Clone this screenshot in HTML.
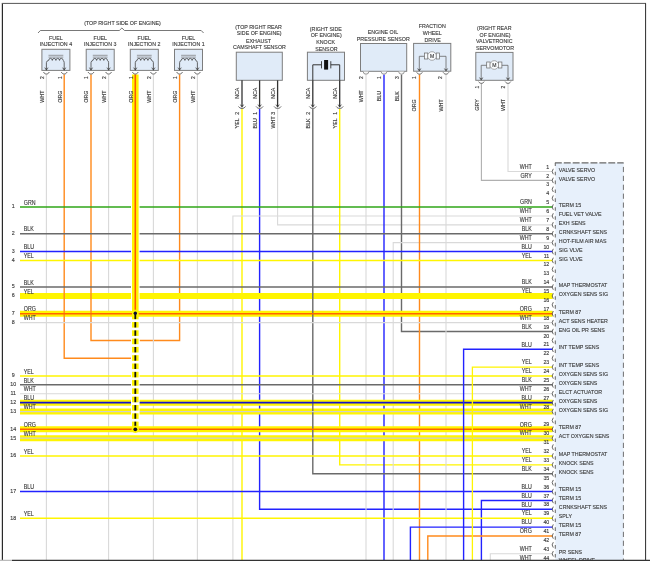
<!DOCTYPE html>
<html><head><meta charset="utf-8"><title>Wiring Diagram</title>
<style>
html,body{margin:0;padding:0;background:#fff;}
body{width:650px;height:561px;overflow:hidden;}
svg{display:block;font-family:"Liberation Sans",sans-serif;will-change:transform;opacity:0.999;filter:blur(0.35px);}
</style></head><body>
<svg width="650" height="561" viewBox="0 0 650 561">
<rect x="0" y="0" width="650" height="561" fill="#ffffff"/>
<g id="vertsA">
<path d="M46.4,74.5 V561.5" stroke="#d9d9d9" stroke-width="1.1" fill="none" />
<path d="M179.6,74.5 V340.5 H139.5" stroke="#ff8a1c" stroke-width="1.4" fill="none" />
<path d="M108.6,74.5 V561.5" stroke="#d9d9d9" stroke-width="1.1" fill="none" />
<path d="M153.4,74.5 V561.5" stroke="#d9d9d9" stroke-width="1.1" fill="none" />
<path d="M197.4,74.5 V561.5" stroke="#d9d9d9" stroke-width="1.1" fill="none" />
<path d="M242,109 V561.5" stroke="#fff500" stroke-width="1.4" fill="none" />
<path d="M259.6,109 V509.32 H552.6" stroke="#2222ff" stroke-width="1.4" fill="none" />
<path d="M277.6,109 V224.84 H552.6" stroke="#d9d9d9" stroke-width="1.1" fill="none" />
<path d="M232.9,561.5 V215.95 H552.6" stroke="#d9d9d9" stroke-width="1.1" fill="none" />
<path d="M339.7,109 V464.87 H552.6" stroke="#fff500" stroke-width="1.4" fill="none" />
<path d="M366,74.5 V561.5" stroke="#d9d9d9" stroke-width="1.1" fill="none" />
<path d="M384,74.5 V561.5" stroke="#2222ff" stroke-width="1.4" fill="none" />
<path d="M401.5,74.5 V331.52 H552.6" stroke="#6a6a6a" stroke-width="1.4" fill="none" />
<path d="M393.2,561.5 V242.62 H552.6" stroke="#d9d9d9" stroke-width="1.1" fill="none" />
<path d="M419.5,74.5 V561.5" stroke="#ff8a1c" stroke-width="1.4" fill="none" />
<path d="M446,74.5 V561.5" stroke="#d9d9d9" stroke-width="1.1" fill="none" />
<path d="M481.4,83.5 V180.39 H552.6" stroke="#b0b0b0" stroke-width="1.1" fill="none" />
<path d="M508,83.5 V171.50 H552.6" stroke="#d9d9d9" stroke-width="1.1" fill="none" />
<path d="M481.4,561.5 V500.43 H552.6" stroke="#2222ff" stroke-width="1.4" fill="none" />
<path d="M410.4,561.5 V527.10 H552.6" stroke="#2222ff" stroke-width="1.4" fill="none" />
<path d="M427.8,561.5 V535.99 H552.6" stroke="#ff8a1c" stroke-width="1.4" fill="none" />
<path d="M490.3,561.5 V553.77 H552.6" stroke="#d9d9d9" stroke-width="1.1" fill="none" />
</g>
<g id="bands">
<line x1="20.00" y1="295.96" x2="552.60" y2="295.96" stroke="#fff500" stroke-width="6.0" />
<line x1="20.00" y1="313.74" x2="552.60" y2="313.74" stroke="#fff500" stroke-width="6.0" />
<line x1="20.00" y1="402.64" x2="552.60" y2="402.64" stroke="#fff500" stroke-width="6.0" />
<line x1="20.00" y1="411.53" x2="552.60" y2="411.53" stroke="#fff500" stroke-width="6.0" />
<line x1="20.00" y1="429.31" x2="552.60" y2="429.31" stroke="#fff500" stroke-width="6.0" />
<line x1="20.00" y1="438.20" x2="552.60" y2="438.20" stroke="#fff500" stroke-width="6.0" />
</g>
<g id="vertsB">
<path d="M64.2,74.5 V358.2 H131.5" stroke="#ff8a1c" stroke-width="1.4" fill="none" />
<path d="M91,74.5 V340.5 H131.5" stroke="#ff8a1c" stroke-width="1.4" fill="none" />
<path d="M312.8,109 V473.76 H552.6" stroke="#6a6a6a" stroke-width="1.4" fill="none" />
</g>
<g id="horiz">
<line x1="20.00" y1="207.06" x2="552.60" y2="207.06" stroke="#2fa617" stroke-width="1.5" />
<line x1="20.00" y1="233.73" x2="552.60" y2="233.73" stroke="#6a6a6a" stroke-width="1.5" />
<line x1="20.00" y1="251.51" x2="552.60" y2="251.51" stroke="#2222ff" stroke-width="1.5" />
<line x1="20.00" y1="260.40" x2="552.60" y2="260.40" stroke="#fff500" stroke-width="1.5" />
<line x1="20.00" y1="287.07" x2="552.60" y2="287.07" stroke="#6a6a6a" stroke-width="1.5" />
<line x1="20.00" y1="313.74" x2="552.60" y2="313.74" stroke="#ff6400" stroke-width="1.6" />
<line x1="20.00" y1="322.63" x2="552.60" y2="322.63" stroke="#d9d9d9" stroke-width="1.1" />
<line x1="20.00" y1="375.97" x2="552.60" y2="375.97" stroke="#fff500" stroke-width="1.5" />
<line x1="20.00" y1="384.86" x2="552.60" y2="384.86" stroke="#6a6a6a" stroke-width="1.5" />
<line x1="20.00" y1="393.75" x2="552.60" y2="393.75" stroke="#d9d9d9" stroke-width="1.1" />
<line x1="20.00" y1="402.64" x2="552.60" y2="402.64" stroke="#1414c8" stroke-width="1.6" />
<line x1="20.00" y1="411.53" x2="552.60" y2="411.53" stroke="#cfcfcf" stroke-width="1.2" />
<line x1="20.00" y1="429.31" x2="552.60" y2="429.31" stroke="#ff6400" stroke-width="1.6" />
<line x1="20.00" y1="438.20" x2="552.60" y2="438.20" stroke="#cfcfcf" stroke-width="1.2" />
<line x1="20.00" y1="455.98" x2="552.60" y2="455.98" stroke="#fff500" stroke-width="1.5" />
<line x1="20.00" y1="491.54" x2="552.60" y2="491.54" stroke="#2222ff" stroke-width="1.5" />
<line x1="20.00" y1="518.21" x2="552.60" y2="518.21" stroke="#fff500" stroke-width="1.5" />
</g>
<g id="vertsC">
<path d="M463.6,561.5 V349.30 H552.6" stroke="#2222ff" stroke-width="1.4" fill="none" />
<path d="M472.4,561.5 V367.08 H552.6" stroke="#fff500" stroke-width="1.3" fill="none" />
</g>
<g id="hlvert">
<line x1="135.30" y1="75.00" x2="135.30" y2="310.54" stroke="#ffffff" stroke-width="8.6" />
<line x1="135.30" y1="74.50" x2="135.30" y2="311.24" stroke="#fff500" stroke-width="6.6" />
<line x1="135.30" y1="74.50" x2="135.30" y2="309.74" stroke="#ff5a00" stroke-width="1.6" />
<rect x="132.00" y="310.74" width="6.6" height="6" fill="#fff500"/>
<line x1="135.30" y1="316.94" x2="135.30" y2="426.11" stroke="#ffffff" stroke-width="8.6" />
<rect x="132.00" y="313.74" width="6.6" height="5.6" fill="#fff500"/>
<line x1="135.30" y1="313.74" x2="135.30" y2="319.14" stroke="#111" stroke-width="1.8" />
<rect x="132.00" y="322.00" width="6.6" height="5.6" fill="#fff500"/>
<line x1="135.30" y1="322.10" x2="135.30" y2="327.50" stroke="#111" stroke-width="1.8" />
<rect x="132.00" y="330.30" width="6.6" height="5.6" fill="#fff500"/>
<line x1="135.30" y1="330.40" x2="135.30" y2="335.80" stroke="#111" stroke-width="1.8" />
<rect x="132.00" y="338.60" width="6.6" height="5.6" fill="#fff500"/>
<line x1="135.30" y1="338.70" x2="135.30" y2="344.10" stroke="#111" stroke-width="1.8" />
<rect x="132.00" y="346.90" width="6.6" height="5.6" fill="#fff500"/>
<line x1="135.30" y1="347.00" x2="135.30" y2="352.40" stroke="#111" stroke-width="1.8" />
<rect x="132.00" y="355.20" width="6.6" height="5.6" fill="#fff500"/>
<line x1="135.30" y1="355.30" x2="135.30" y2="360.70" stroke="#111" stroke-width="1.8" />
<rect x="132.00" y="363.50" width="6.6" height="5.6" fill="#fff500"/>
<line x1="135.30" y1="363.60" x2="135.30" y2="369.00" stroke="#111" stroke-width="1.8" />
<rect x="132.00" y="371.80" width="6.6" height="5.6" fill="#fff500"/>
<line x1="135.30" y1="371.90" x2="135.30" y2="377.30" stroke="#111" stroke-width="1.8" />
<rect x="132.00" y="380.10" width="6.6" height="5.6" fill="#fff500"/>
<line x1="135.30" y1="380.20" x2="135.30" y2="385.60" stroke="#111" stroke-width="1.8" />
<rect x="132.00" y="388.40" width="6.6" height="5.6" fill="#fff500"/>
<line x1="135.30" y1="388.50" x2="135.30" y2="393.90" stroke="#111" stroke-width="1.8" />
<rect x="132.00" y="396.70" width="6.6" height="5.6" fill="#fff500"/>
<line x1="135.30" y1="396.80" x2="135.30" y2="402.20" stroke="#111" stroke-width="1.8" />
<rect x="132.00" y="405.00" width="6.6" height="5.6" fill="#fff500"/>
<line x1="135.30" y1="405.10" x2="135.30" y2="410.50" stroke="#111" stroke-width="1.8" />
<rect x="132.00" y="413.30" width="6.6" height="5.6" fill="#fff500"/>
<line x1="135.30" y1="413.40" x2="135.30" y2="418.80" stroke="#111" stroke-width="1.8" />
<rect x="132.00" y="421.60" width="6.6" height="5.6" fill="#fff500"/>
<line x1="135.30" y1="421.70" x2="135.30" y2="427.10" stroke="#111" stroke-width="1.8" />
<circle cx="135.30" cy="313.14" r="1.7" fill="#0a0a3a"/>
<circle cx="135.30" cy="429.31" r="3.6" fill="#fff500"/>
<circle cx="135.30" cy="429.31" r="1.9" fill="#0a0a2a"/>
</g>
<g id="leftlabels">
<text transform="translate(13.20,208.36) scale(0.856,1)" text-anchor="middle" font-size="6.2" fill="#3a3a3a" stroke="#3a3a3a" stroke-width="0.14">1</text>
<text transform="translate(23.80,204.71) scale(0.804,1)" text-anchor="start" font-size="6.6" fill="#3a3a3a" stroke="#3a3a3a" stroke-width="0.14">GRN</text>
<text transform="translate(13.20,235.03) scale(0.856,1)" text-anchor="middle" font-size="6.2" fill="#3a3a3a" stroke="#3a3a3a" stroke-width="0.14">2</text>
<text transform="translate(23.80,231.38) scale(0.804,1)" text-anchor="start" font-size="6.6" fill="#3a3a3a" stroke="#3a3a3a" stroke-width="0.14">BLK</text>
<text transform="translate(13.20,252.81) scale(0.856,1)" text-anchor="middle" font-size="6.2" fill="#3a3a3a" stroke="#3a3a3a" stroke-width="0.14">3</text>
<text transform="translate(23.80,249.16) scale(0.804,1)" text-anchor="start" font-size="6.6" fill="#3a3a3a" stroke="#3a3a3a" stroke-width="0.14">BLU</text>
<text transform="translate(13.20,261.70) scale(0.856,1)" text-anchor="middle" font-size="6.2" fill="#3a3a3a" stroke="#3a3a3a" stroke-width="0.14">4</text>
<text transform="translate(23.80,258.05) scale(0.804,1)" text-anchor="start" font-size="6.6" fill="#3a3a3a" stroke="#3a3a3a" stroke-width="0.14">YEL</text>
<text transform="translate(13.20,288.37) scale(0.856,1)" text-anchor="middle" font-size="6.2" fill="#3a3a3a" stroke="#3a3a3a" stroke-width="0.14">5</text>
<text transform="translate(23.80,284.72) scale(0.804,1)" text-anchor="start" font-size="6.6" fill="#3a3a3a" stroke="#3a3a3a" stroke-width="0.14">BLK</text>
<text transform="translate(13.20,297.26) scale(0.856,1)" text-anchor="middle" font-size="6.2" fill="#3a3a3a" stroke="#3a3a3a" stroke-width="0.14">6</text>
<text transform="translate(23.80,293.61) scale(0.804,1)" text-anchor="start" font-size="6.6" fill="#3a3a3a" stroke="#3a3a3a" stroke-width="0.14">YEL</text>
<text transform="translate(13.20,315.04) scale(0.856,1)" text-anchor="middle" font-size="6.2" fill="#3a3a3a" stroke="#3a3a3a" stroke-width="0.14">7</text>
<text transform="translate(23.80,311.39) scale(0.804,1)" text-anchor="start" font-size="6.6" fill="#3a3a3a" stroke="#3a3a3a" stroke-width="0.14">ORG</text>
<text transform="translate(13.20,323.93) scale(0.856,1)" text-anchor="middle" font-size="6.2" fill="#3a3a3a" stroke="#3a3a3a" stroke-width="0.14">8</text>
<text transform="translate(23.80,320.28) scale(0.804,1)" text-anchor="start" font-size="6.6" fill="#3a3a3a" stroke="#3a3a3a" stroke-width="0.14">WHT</text>
<text transform="translate(13.20,377.27) scale(0.856,1)" text-anchor="middle" font-size="6.2" fill="#3a3a3a" stroke="#3a3a3a" stroke-width="0.14">9</text>
<text transform="translate(23.80,373.62) scale(0.804,1)" text-anchor="start" font-size="6.6" fill="#3a3a3a" stroke="#3a3a3a" stroke-width="0.14">YEL</text>
<text transform="translate(13.20,386.16) scale(0.856,1)" text-anchor="middle" font-size="6.2" fill="#3a3a3a" stroke="#3a3a3a" stroke-width="0.14">10</text>
<text transform="translate(23.80,382.51) scale(0.804,1)" text-anchor="start" font-size="6.6" fill="#3a3a3a" stroke="#3a3a3a" stroke-width="0.14">BLK</text>
<text transform="translate(13.20,395.05) scale(0.856,1)" text-anchor="middle" font-size="6.2" fill="#3a3a3a" stroke="#3a3a3a" stroke-width="0.14">11</text>
<text transform="translate(23.80,391.40) scale(0.804,1)" text-anchor="start" font-size="6.6" fill="#3a3a3a" stroke="#3a3a3a" stroke-width="0.14">WHT</text>
<text transform="translate(13.20,403.94) scale(0.856,1)" text-anchor="middle" font-size="6.2" fill="#3a3a3a" stroke="#3a3a3a" stroke-width="0.14">12</text>
<text transform="translate(23.80,400.29) scale(0.804,1)" text-anchor="start" font-size="6.6" fill="#3a3a3a" stroke="#3a3a3a" stroke-width="0.14">BLU</text>
<text transform="translate(13.20,412.83) scale(0.856,1)" text-anchor="middle" font-size="6.2" fill="#3a3a3a" stroke="#3a3a3a" stroke-width="0.14">13</text>
<text transform="translate(23.80,409.18) scale(0.804,1)" text-anchor="start" font-size="6.6" fill="#3a3a3a" stroke="#3a3a3a" stroke-width="0.14">WHT</text>
<text transform="translate(13.20,430.61) scale(0.856,1)" text-anchor="middle" font-size="6.2" fill="#3a3a3a" stroke="#3a3a3a" stroke-width="0.14">14</text>
<text transform="translate(23.80,426.96) scale(0.804,1)" text-anchor="start" font-size="6.6" fill="#3a3a3a" stroke="#3a3a3a" stroke-width="0.14">ORG</text>
<text transform="translate(13.20,439.50) scale(0.856,1)" text-anchor="middle" font-size="6.2" fill="#3a3a3a" stroke="#3a3a3a" stroke-width="0.14">15</text>
<text transform="translate(23.80,435.85) scale(0.804,1)" text-anchor="start" font-size="6.6" fill="#3a3a3a" stroke="#3a3a3a" stroke-width="0.14">WHT</text>
<text transform="translate(13.20,457.28) scale(0.856,1)" text-anchor="middle" font-size="6.2" fill="#3a3a3a" stroke="#3a3a3a" stroke-width="0.14">16</text>
<text transform="translate(23.80,453.63) scale(0.804,1)" text-anchor="start" font-size="6.6" fill="#3a3a3a" stroke="#3a3a3a" stroke-width="0.14">YEL</text>
<text transform="translate(13.20,492.84) scale(0.856,1)" text-anchor="middle" font-size="6.2" fill="#3a3a3a" stroke="#3a3a3a" stroke-width="0.14">17</text>
<text transform="translate(23.80,489.19) scale(0.804,1)" text-anchor="start" font-size="6.6" fill="#3a3a3a" stroke="#3a3a3a" stroke-width="0.14">BLU</text>
<text transform="translate(13.20,519.51) scale(0.856,1)" text-anchor="middle" font-size="6.2" fill="#3a3a3a" stroke="#3a3a3a" stroke-width="0.14">18</text>
<text transform="translate(23.80,515.86) scale(0.804,1)" text-anchor="start" font-size="6.6" fill="#3a3a3a" stroke="#3a3a3a" stroke-width="0.14">YEL</text>
</g>
<rect x="555.3" y="162.9" width="68.30" height="403.60" fill="#e7f0fb"/>
<line x1="554.90" y1="162.90" x2="623.60" y2="162.90" stroke="#686868" stroke-width="1.2" stroke-dasharray="6.9 2.0"/>
<line x1="623.40" y1="162.90" x2="623.40" y2="561.50" stroke="#707070" stroke-width="1.0" stroke-dasharray="5.2 3.7" stroke-dashoffset="4.9"/>
<line x1="555.30" y1="162.90" x2="555.30" y2="165.90" stroke="#6f6f6f" stroke-width="1.1" />
<g id="conn">
<line x1="555.30" y1="171.70" x2="555.30" y2="175.30" stroke="#6f6f6f" stroke-width="1.1" />
<path d="M553.30,168.80 Q551.00,171.50 553.30,174.20" stroke="#4a4a4a" stroke-width="0.85" fill="none" />
<text transform="translate(549.30,168.65) scale(0.856,1)" text-anchor="end" font-size="6.2" fill="#3a3a3a" stroke="#3a3a3a" stroke-width="0.14">1</text>
<text transform="translate(531.80,168.75) scale(0.804,1)" text-anchor="end" font-size="6.6" fill="#3a3a3a" stroke="#3a3a3a" stroke-width="0.14">WHT</text>
<text transform="translate(558.80,171.80) scale(0.856,1)" text-anchor="start" font-size="6.2" fill="#3a3a3a" stroke="#3a3a3a" stroke-width="0.14">VALVE SERVO</text>
<line x1="555.30" y1="180.59" x2="555.30" y2="184.19" stroke="#6f6f6f" stroke-width="1.1" />
<path d="M553.30,177.69 Q551.00,180.39 553.30,183.09" stroke="#4a4a4a" stroke-width="0.85" fill="none" />
<text transform="translate(549.30,177.54) scale(0.856,1)" text-anchor="end" font-size="6.2" fill="#3a3a3a" stroke="#3a3a3a" stroke-width="0.14">2</text>
<text transform="translate(531.80,177.64) scale(0.804,1)" text-anchor="end" font-size="6.6" fill="#3a3a3a" stroke="#3a3a3a" stroke-width="0.14">GRY</text>
<text transform="translate(558.80,180.68) scale(0.856,1)" text-anchor="start" font-size="6.2" fill="#3a3a3a" stroke="#3a3a3a" stroke-width="0.14">VALVE SERVO</text>
<line x1="555.30" y1="189.48" x2="555.30" y2="193.08" stroke="#6f6f6f" stroke-width="1.1" />
<path d="M553.30,186.58 Q551.00,189.28 553.30,191.98" stroke="#4a4a4a" stroke-width="0.85" fill="none" />
<text transform="translate(549.30,186.43) scale(0.856,1)" text-anchor="end" font-size="6.2" fill="#3a3a3a" stroke="#3a3a3a" stroke-width="0.14">3</text>
<line x1="555.30" y1="198.37" x2="555.30" y2="201.97" stroke="#6f6f6f" stroke-width="1.1" />
<path d="M553.30,195.47 Q551.00,198.17 553.30,200.87" stroke="#4a4a4a" stroke-width="0.85" fill="none" />
<text transform="translate(549.30,195.32) scale(0.856,1)" text-anchor="end" font-size="6.2" fill="#3a3a3a" stroke="#3a3a3a" stroke-width="0.14">4</text>
<line x1="555.30" y1="207.26" x2="555.30" y2="210.86" stroke="#6f6f6f" stroke-width="1.1" />
<path d="M553.30,204.36 Q551.00,207.06 553.30,209.76" stroke="#4a4a4a" stroke-width="0.85" fill="none" />
<text transform="translate(549.30,204.21) scale(0.856,1)" text-anchor="end" font-size="6.2" fill="#3a3a3a" stroke="#3a3a3a" stroke-width="0.14">5</text>
<text transform="translate(531.80,204.31) scale(0.804,1)" text-anchor="end" font-size="6.6" fill="#3a3a3a" stroke="#3a3a3a" stroke-width="0.14">GRN</text>
<text transform="translate(558.80,207.31) scale(0.856,1)" text-anchor="start" font-size="6.2" fill="#3a3a3a" stroke="#3a3a3a" stroke-width="0.14">TERM 15</text>
<line x1="555.30" y1="216.15" x2="555.30" y2="219.75" stroke="#6f6f6f" stroke-width="1.1" />
<path d="M553.30,213.25 Q551.00,215.95 553.30,218.65" stroke="#4a4a4a" stroke-width="0.85" fill="none" />
<text transform="translate(549.30,213.10) scale(0.856,1)" text-anchor="end" font-size="6.2" fill="#3a3a3a" stroke="#3a3a3a" stroke-width="0.14">6</text>
<text transform="translate(531.80,213.20) scale(0.804,1)" text-anchor="end" font-size="6.6" fill="#3a3a3a" stroke="#3a3a3a" stroke-width="0.14">WHT</text>
<text transform="translate(558.80,216.19) scale(0.856,1)" text-anchor="start" font-size="6.2" fill="#3a3a3a" stroke="#3a3a3a" stroke-width="0.14">FUEL VET VALVE</text>
<line x1="555.30" y1="225.04" x2="555.30" y2="228.64" stroke="#6f6f6f" stroke-width="1.1" />
<path d="M553.30,222.14 Q551.00,224.84 553.30,227.54" stroke="#4a4a4a" stroke-width="0.85" fill="none" />
<text transform="translate(549.30,221.99) scale(0.856,1)" text-anchor="end" font-size="6.2" fill="#3a3a3a" stroke="#3a3a3a" stroke-width="0.14">7</text>
<text transform="translate(531.80,222.09) scale(0.804,1)" text-anchor="end" font-size="6.6" fill="#3a3a3a" stroke="#3a3a3a" stroke-width="0.14">WHT</text>
<text transform="translate(558.80,225.07) scale(0.856,1)" text-anchor="start" font-size="6.2" fill="#3a3a3a" stroke="#3a3a3a" stroke-width="0.14">EXH SENS</text>
<line x1="555.30" y1="233.93" x2="555.30" y2="237.53" stroke="#6f6f6f" stroke-width="1.1" />
<path d="M553.30,231.03 Q551.00,233.73 553.30,236.43" stroke="#4a4a4a" stroke-width="0.85" fill="none" />
<text transform="translate(549.30,230.88) scale(0.856,1)" text-anchor="end" font-size="6.2" fill="#3a3a3a" stroke="#3a3a3a" stroke-width="0.14">8</text>
<text transform="translate(531.80,230.98) scale(0.804,1)" text-anchor="end" font-size="6.6" fill="#3a3a3a" stroke="#3a3a3a" stroke-width="0.14">BLK</text>
<text transform="translate(558.80,233.95) scale(0.856,1)" text-anchor="start" font-size="6.2" fill="#3a3a3a" stroke="#3a3a3a" stroke-width="0.14">CRNKSHAFT SENS</text>
<line x1="555.30" y1="242.82" x2="555.30" y2="246.42" stroke="#6f6f6f" stroke-width="1.1" />
<path d="M553.30,239.92 Q551.00,242.62 553.30,245.32" stroke="#4a4a4a" stroke-width="0.85" fill="none" />
<text transform="translate(549.30,239.77) scale(0.856,1)" text-anchor="end" font-size="6.2" fill="#3a3a3a" stroke="#3a3a3a" stroke-width="0.14">9</text>
<text transform="translate(531.80,239.87) scale(0.804,1)" text-anchor="end" font-size="6.6" fill="#3a3a3a" stroke="#3a3a3a" stroke-width="0.14">WHT</text>
<text transform="translate(558.80,242.82) scale(0.856,1)" text-anchor="start" font-size="6.2" fill="#3a3a3a" stroke="#3a3a3a" stroke-width="0.14">HOT-FILM AIR MAS</text>
<line x1="555.30" y1="251.71" x2="555.30" y2="255.31" stroke="#6f6f6f" stroke-width="1.1" />
<path d="M553.30,248.81 Q551.00,251.51 553.30,254.21" stroke="#4a4a4a" stroke-width="0.85" fill="none" />
<text transform="translate(549.30,248.66) scale(0.856,1)" text-anchor="end" font-size="6.2" fill="#3a3a3a" stroke="#3a3a3a" stroke-width="0.14">10</text>
<text transform="translate(531.80,248.76) scale(0.804,1)" text-anchor="end" font-size="6.6" fill="#3a3a3a" stroke="#3a3a3a" stroke-width="0.14">BLU</text>
<text transform="translate(558.80,251.70) scale(0.856,1)" text-anchor="start" font-size="6.2" fill="#3a3a3a" stroke="#3a3a3a" stroke-width="0.14">SIG VLVE</text>
<line x1="555.30" y1="260.60" x2="555.30" y2="264.20" stroke="#6f6f6f" stroke-width="1.1" />
<path d="M553.30,257.70 Q551.00,260.40 553.30,263.10" stroke="#4a4a4a" stroke-width="0.85" fill="none" />
<text transform="translate(549.30,257.55) scale(0.856,1)" text-anchor="end" font-size="6.2" fill="#3a3a3a" stroke="#3a3a3a" stroke-width="0.14">11</text>
<text transform="translate(531.80,257.65) scale(0.804,1)" text-anchor="end" font-size="6.6" fill="#3a3a3a" stroke="#3a3a3a" stroke-width="0.14">YEL</text>
<text transform="translate(558.80,260.58) scale(0.856,1)" text-anchor="start" font-size="6.2" fill="#3a3a3a" stroke="#3a3a3a" stroke-width="0.14">SIG VLVE</text>
<line x1="555.30" y1="269.49" x2="555.30" y2="273.09" stroke="#6f6f6f" stroke-width="1.1" />
<path d="M553.30,266.59 Q551.00,269.29 553.30,271.99" stroke="#4a4a4a" stroke-width="0.85" fill="none" />
<text transform="translate(549.30,266.44) scale(0.856,1)" text-anchor="end" font-size="6.2" fill="#3a3a3a" stroke="#3a3a3a" stroke-width="0.14">12</text>
<line x1="555.30" y1="278.38" x2="555.30" y2="281.98" stroke="#6f6f6f" stroke-width="1.1" />
<path d="M553.30,275.48 Q551.00,278.18 553.30,280.88" stroke="#4a4a4a" stroke-width="0.85" fill="none" />
<text transform="translate(549.30,275.33) scale(0.856,1)" text-anchor="end" font-size="6.2" fill="#3a3a3a" stroke="#3a3a3a" stroke-width="0.14">13</text>
<line x1="555.30" y1="287.27" x2="555.30" y2="290.87" stroke="#6f6f6f" stroke-width="1.1" />
<path d="M553.30,284.37 Q551.00,287.07 553.30,289.77" stroke="#4a4a4a" stroke-width="0.85" fill="none" />
<text transform="translate(549.30,284.22) scale(0.856,1)" text-anchor="end" font-size="6.2" fill="#3a3a3a" stroke="#3a3a3a" stroke-width="0.14">14</text>
<text transform="translate(531.80,284.32) scale(0.804,1)" text-anchor="end" font-size="6.6" fill="#3a3a3a" stroke="#3a3a3a" stroke-width="0.14">BLK</text>
<text transform="translate(558.80,287.21) scale(0.856,1)" text-anchor="start" font-size="6.2" fill="#3a3a3a" stroke="#3a3a3a" stroke-width="0.14">MAP THERMOSTAT</text>
<line x1="555.30" y1="296.16" x2="555.30" y2="299.76" stroke="#6f6f6f" stroke-width="1.1" />
<path d="M553.30,293.26 Q551.00,295.96 553.30,298.66" stroke="#4a4a4a" stroke-width="0.85" fill="none" />
<text transform="translate(549.30,293.11) scale(0.856,1)" text-anchor="end" font-size="6.2" fill="#3a3a3a" stroke="#3a3a3a" stroke-width="0.14">15</text>
<text transform="translate(531.80,293.21) scale(0.804,1)" text-anchor="end" font-size="6.6" fill="#3a3a3a" stroke="#3a3a3a" stroke-width="0.14">YEL</text>
<text transform="translate(558.80,296.09) scale(0.856,1)" text-anchor="start" font-size="6.2" fill="#3a3a3a" stroke="#3a3a3a" stroke-width="0.14">OXYGEN SENS SIG</text>
<line x1="555.30" y1="305.05" x2="555.30" y2="308.65" stroke="#6f6f6f" stroke-width="1.1" />
<path d="M553.30,302.15 Q551.00,304.85 553.30,307.55" stroke="#4a4a4a" stroke-width="0.85" fill="none" />
<text transform="translate(549.30,302.00) scale(0.856,1)" text-anchor="end" font-size="6.2" fill="#3a3a3a" stroke="#3a3a3a" stroke-width="0.14">16</text>
<line x1="555.30" y1="313.94" x2="555.30" y2="317.54" stroke="#6f6f6f" stroke-width="1.1" />
<path d="M553.30,311.04 Q551.00,313.74 553.30,316.44" stroke="#4a4a4a" stroke-width="0.85" fill="none" />
<text transform="translate(549.30,310.89) scale(0.856,1)" text-anchor="end" font-size="6.2" fill="#3a3a3a" stroke="#3a3a3a" stroke-width="0.14">17</text>
<text transform="translate(531.80,310.99) scale(0.804,1)" text-anchor="end" font-size="6.6" fill="#3a3a3a" stroke="#3a3a3a" stroke-width="0.14">ORG</text>
<text transform="translate(558.80,313.85) scale(0.856,1)" text-anchor="start" font-size="6.2" fill="#3a3a3a" stroke="#3a3a3a" stroke-width="0.14">TERM 87</text>
<line x1="555.30" y1="322.83" x2="555.30" y2="326.43" stroke="#6f6f6f" stroke-width="1.1" />
<path d="M553.30,319.93 Q551.00,322.63 553.30,325.33" stroke="#4a4a4a" stroke-width="0.85" fill="none" />
<text transform="translate(549.30,319.78) scale(0.856,1)" text-anchor="end" font-size="6.2" fill="#3a3a3a" stroke="#3a3a3a" stroke-width="0.14">18</text>
<text transform="translate(531.80,319.88) scale(0.804,1)" text-anchor="end" font-size="6.6" fill="#3a3a3a" stroke="#3a3a3a" stroke-width="0.14">WHT</text>
<text transform="translate(558.80,322.73) scale(0.856,1)" text-anchor="start" font-size="6.2" fill="#3a3a3a" stroke="#3a3a3a" stroke-width="0.14">ACT SENS HEATER</text>
<line x1="555.30" y1="331.72" x2="555.30" y2="335.32" stroke="#6f6f6f" stroke-width="1.1" />
<path d="M553.30,328.82 Q551.00,331.52 553.30,334.22" stroke="#4a4a4a" stroke-width="0.85" fill="none" />
<text transform="translate(549.30,328.67) scale(0.856,1)" text-anchor="end" font-size="6.2" fill="#3a3a3a" stroke="#3a3a3a" stroke-width="0.14">19</text>
<text transform="translate(531.80,328.77) scale(0.804,1)" text-anchor="end" font-size="6.6" fill="#3a3a3a" stroke="#3a3a3a" stroke-width="0.14">BLK</text>
<text transform="translate(558.80,331.60) scale(0.856,1)" text-anchor="start" font-size="6.2" fill="#3a3a3a" stroke="#3a3a3a" stroke-width="0.14">ENG OIL PR SENS</text>
<line x1="555.30" y1="340.61" x2="555.30" y2="344.21" stroke="#6f6f6f" stroke-width="1.1" />
<path d="M553.30,337.71 Q551.00,340.41 553.30,343.11" stroke="#4a4a4a" stroke-width="0.85" fill="none" />
<text transform="translate(549.30,337.56) scale(0.856,1)" text-anchor="end" font-size="6.2" fill="#3a3a3a" stroke="#3a3a3a" stroke-width="0.14">20</text>
<line x1="555.30" y1="349.50" x2="555.30" y2="353.10" stroke="#6f6f6f" stroke-width="1.1" />
<path d="M553.30,346.60 Q551.00,349.30 553.30,352.00" stroke="#4a4a4a" stroke-width="0.85" fill="none" />
<text transform="translate(549.30,346.45) scale(0.856,1)" text-anchor="end" font-size="6.2" fill="#3a3a3a" stroke="#3a3a3a" stroke-width="0.14">21</text>
<text transform="translate(531.80,346.55) scale(0.804,1)" text-anchor="end" font-size="6.6" fill="#3a3a3a" stroke="#3a3a3a" stroke-width="0.14">BLU</text>
<text transform="translate(558.80,349.36) scale(0.856,1)" text-anchor="start" font-size="6.2" fill="#3a3a3a" stroke="#3a3a3a" stroke-width="0.14">INT TEMP SENS</text>
<line x1="555.30" y1="358.39" x2="555.30" y2="361.99" stroke="#6f6f6f" stroke-width="1.1" />
<path d="M553.30,355.49 Q551.00,358.19 553.30,360.89" stroke="#4a4a4a" stroke-width="0.85" fill="none" />
<text transform="translate(549.30,355.34) scale(0.856,1)" text-anchor="end" font-size="6.2" fill="#3a3a3a" stroke="#3a3a3a" stroke-width="0.14">22</text>
<line x1="555.30" y1="367.28" x2="555.30" y2="370.88" stroke="#6f6f6f" stroke-width="1.1" />
<path d="M553.30,364.38 Q551.00,367.08 553.30,369.78" stroke="#4a4a4a" stroke-width="0.85" fill="none" />
<text transform="translate(549.30,364.23) scale(0.856,1)" text-anchor="end" font-size="6.2" fill="#3a3a3a" stroke="#3a3a3a" stroke-width="0.14">23</text>
<text transform="translate(531.80,364.33) scale(0.804,1)" text-anchor="end" font-size="6.6" fill="#3a3a3a" stroke="#3a3a3a" stroke-width="0.14">YEL</text>
<text transform="translate(558.80,367.12) scale(0.856,1)" text-anchor="start" font-size="6.2" fill="#3a3a3a" stroke="#3a3a3a" stroke-width="0.14">INT TEMP SENS</text>
<line x1="555.30" y1="376.17" x2="555.30" y2="379.77" stroke="#6f6f6f" stroke-width="1.1" />
<path d="M553.30,373.27 Q551.00,375.97 553.30,378.67" stroke="#4a4a4a" stroke-width="0.85" fill="none" />
<text transform="translate(549.30,373.12) scale(0.856,1)" text-anchor="end" font-size="6.2" fill="#3a3a3a" stroke="#3a3a3a" stroke-width="0.14">24</text>
<text transform="translate(531.80,373.22) scale(0.804,1)" text-anchor="end" font-size="6.6" fill="#3a3a3a" stroke="#3a3a3a" stroke-width="0.14">YEL</text>
<text transform="translate(558.80,375.99) scale(0.856,1)" text-anchor="start" font-size="6.2" fill="#3a3a3a" stroke="#3a3a3a" stroke-width="0.14">OXYGEN SENS SIG</text>
<line x1="555.30" y1="385.06" x2="555.30" y2="388.66" stroke="#6f6f6f" stroke-width="1.1" />
<path d="M553.30,382.16 Q551.00,384.86 553.30,387.56" stroke="#4a4a4a" stroke-width="0.85" fill="none" />
<text transform="translate(549.30,382.01) scale(0.856,1)" text-anchor="end" font-size="6.2" fill="#3a3a3a" stroke="#3a3a3a" stroke-width="0.14">25</text>
<text transform="translate(531.80,382.11) scale(0.804,1)" text-anchor="end" font-size="6.6" fill="#3a3a3a" stroke="#3a3a3a" stroke-width="0.14">BLK</text>
<text transform="translate(558.80,384.87) scale(0.856,1)" text-anchor="start" font-size="6.2" fill="#3a3a3a" stroke="#3a3a3a" stroke-width="0.14">OXYGEN SENS</text>
<line x1="555.30" y1="393.95" x2="555.30" y2="397.55" stroke="#6f6f6f" stroke-width="1.1" />
<path d="M553.30,391.05 Q551.00,393.75 553.30,396.45" stroke="#4a4a4a" stroke-width="0.85" fill="none" />
<text transform="translate(549.30,390.90) scale(0.856,1)" text-anchor="end" font-size="6.2" fill="#3a3a3a" stroke="#3a3a3a" stroke-width="0.14">26</text>
<text transform="translate(531.80,391.00) scale(0.804,1)" text-anchor="end" font-size="6.6" fill="#3a3a3a" stroke="#3a3a3a" stroke-width="0.14">WHT</text>
<text transform="translate(558.80,393.75) scale(0.856,1)" text-anchor="start" font-size="6.2" fill="#3a3a3a" stroke="#3a3a3a" stroke-width="0.14">ELCT ACTUATOR</text>
<line x1="555.30" y1="402.84" x2="555.30" y2="406.44" stroke="#6f6f6f" stroke-width="1.1" />
<path d="M553.30,399.94 Q551.00,402.64 553.30,405.34" stroke="#4a4a4a" stroke-width="0.85" fill="none" />
<text transform="translate(549.30,399.79) scale(0.856,1)" text-anchor="end" font-size="6.2" fill="#3a3a3a" stroke="#3a3a3a" stroke-width="0.14">27</text>
<text transform="translate(531.80,399.89) scale(0.804,1)" text-anchor="end" font-size="6.6" fill="#3a3a3a" stroke="#3a3a3a" stroke-width="0.14">BLU</text>
<text transform="translate(558.80,402.63) scale(0.856,1)" text-anchor="start" font-size="6.2" fill="#3a3a3a" stroke="#3a3a3a" stroke-width="0.14">OXYGEN SENS</text>
<line x1="555.30" y1="411.73" x2="555.30" y2="415.33" stroke="#6f6f6f" stroke-width="1.1" />
<path d="M553.30,408.83 Q551.00,411.53 553.30,414.23" stroke="#4a4a4a" stroke-width="0.85" fill="none" />
<text transform="translate(549.30,408.68) scale(0.856,1)" text-anchor="end" font-size="6.2" fill="#3a3a3a" stroke="#3a3a3a" stroke-width="0.14">28</text>
<text transform="translate(531.80,408.78) scale(0.804,1)" text-anchor="end" font-size="6.6" fill="#3a3a3a" stroke="#3a3a3a" stroke-width="0.14">WHT</text>
<text transform="translate(558.80,411.51) scale(0.856,1)" text-anchor="start" font-size="6.2" fill="#3a3a3a" stroke="#3a3a3a" stroke-width="0.14">OXYGEN SENS SIG</text>
<line x1="555.30" y1="420.62" x2="555.30" y2="424.22" stroke="#6f6f6f" stroke-width="1.1" />
<path d="M553.30,417.72 Q551.00,420.42 553.30,423.12" stroke="#4a4a4a" stroke-width="0.85" fill="none" />
<line x1="555.30" y1="429.51" x2="555.30" y2="433.11" stroke="#6f6f6f" stroke-width="1.1" />
<path d="M553.30,426.61 Q551.00,429.31 553.30,432.01" stroke="#4a4a4a" stroke-width="0.85" fill="none" />
<text transform="translate(549.30,426.46) scale(0.856,1)" text-anchor="end" font-size="6.2" fill="#3a3a3a" stroke="#3a3a3a" stroke-width="0.14">29</text>
<text transform="translate(531.80,426.56) scale(0.804,1)" text-anchor="end" font-size="6.6" fill="#3a3a3a" stroke="#3a3a3a" stroke-width="0.14">ORG</text>
<text transform="translate(558.80,429.26) scale(0.856,1)" text-anchor="start" font-size="6.2" fill="#3a3a3a" stroke="#3a3a3a" stroke-width="0.14">TERM 87</text>
<line x1="555.30" y1="438.40" x2="555.30" y2="442.00" stroke="#6f6f6f" stroke-width="1.1" />
<path d="M553.30,435.50 Q551.00,438.20 553.30,440.90" stroke="#4a4a4a" stroke-width="0.85" fill="none" />
<text transform="translate(549.30,435.35) scale(0.856,1)" text-anchor="end" font-size="6.2" fill="#3a3a3a" stroke="#3a3a3a" stroke-width="0.14">30</text>
<text transform="translate(531.80,435.45) scale(0.804,1)" text-anchor="end" font-size="6.6" fill="#3a3a3a" stroke="#3a3a3a" stroke-width="0.14">WHT</text>
<text transform="translate(558.80,438.14) scale(0.856,1)" text-anchor="start" font-size="6.2" fill="#3a3a3a" stroke="#3a3a3a" stroke-width="0.14">ACT OXYGEN SENS</text>
<line x1="555.30" y1="447.29" x2="555.30" y2="450.89" stroke="#6f6f6f" stroke-width="1.1" />
<path d="M553.30,444.39 Q551.00,447.09 553.30,449.79" stroke="#4a4a4a" stroke-width="0.85" fill="none" />
<text transform="translate(549.30,444.24) scale(0.856,1)" text-anchor="end" font-size="6.2" fill="#3a3a3a" stroke="#3a3a3a" stroke-width="0.14">31</text>
<line x1="555.30" y1="456.18" x2="555.30" y2="459.78" stroke="#6f6f6f" stroke-width="1.1" />
<path d="M553.30,453.28 Q551.00,455.98 553.30,458.68" stroke="#4a4a4a" stroke-width="0.85" fill="none" />
<text transform="translate(549.30,453.13) scale(0.856,1)" text-anchor="end" font-size="6.2" fill="#3a3a3a" stroke="#3a3a3a" stroke-width="0.14">32</text>
<text transform="translate(531.80,453.23) scale(0.804,1)" text-anchor="end" font-size="6.6" fill="#3a3a3a" stroke="#3a3a3a" stroke-width="0.14">YEL</text>
<text transform="translate(558.80,455.90) scale(0.856,1)" text-anchor="start" font-size="6.2" fill="#3a3a3a" stroke="#3a3a3a" stroke-width="0.14">MAP THERMOSTAT</text>
<line x1="555.30" y1="465.07" x2="555.30" y2="468.67" stroke="#6f6f6f" stroke-width="1.1" />
<path d="M553.30,462.17 Q551.00,464.87 553.30,467.57" stroke="#4a4a4a" stroke-width="0.85" fill="none" />
<text transform="translate(549.30,462.02) scale(0.856,1)" text-anchor="end" font-size="6.2" fill="#3a3a3a" stroke="#3a3a3a" stroke-width="0.14">33</text>
<text transform="translate(531.80,462.12) scale(0.804,1)" text-anchor="end" font-size="6.6" fill="#3a3a3a" stroke="#3a3a3a" stroke-width="0.14">YEL</text>
<text transform="translate(558.80,464.77) scale(0.856,1)" text-anchor="start" font-size="6.2" fill="#3a3a3a" stroke="#3a3a3a" stroke-width="0.14">KNOCK SENS</text>
<line x1="555.30" y1="473.96" x2="555.30" y2="477.56" stroke="#6f6f6f" stroke-width="1.1" />
<path d="M553.30,471.06 Q551.00,473.76 553.30,476.46" stroke="#4a4a4a" stroke-width="0.85" fill="none" />
<text transform="translate(549.30,470.91) scale(0.856,1)" text-anchor="end" font-size="6.2" fill="#3a3a3a" stroke="#3a3a3a" stroke-width="0.14">34</text>
<text transform="translate(531.80,471.01) scale(0.804,1)" text-anchor="end" font-size="6.6" fill="#3a3a3a" stroke="#3a3a3a" stroke-width="0.14">BLK</text>
<text transform="translate(558.80,473.65) scale(0.856,1)" text-anchor="start" font-size="6.2" fill="#3a3a3a" stroke="#3a3a3a" stroke-width="0.14">KNOCK SENS</text>
<line x1="555.30" y1="482.85" x2="555.30" y2="486.45" stroke="#6f6f6f" stroke-width="1.1" />
<path d="M553.30,479.95 Q551.00,482.65 553.30,485.35" stroke="#4a4a4a" stroke-width="0.85" fill="none" />
<text transform="translate(549.30,479.80) scale(0.856,1)" text-anchor="end" font-size="6.2" fill="#3a3a3a" stroke="#3a3a3a" stroke-width="0.14">35</text>
<line x1="555.30" y1="491.74" x2="555.30" y2="495.34" stroke="#6f6f6f" stroke-width="1.1" />
<path d="M553.30,488.84 Q551.00,491.54 553.30,494.24" stroke="#4a4a4a" stroke-width="0.85" fill="none" />
<text transform="translate(549.30,488.69) scale(0.856,1)" text-anchor="end" font-size="6.2" fill="#3a3a3a" stroke="#3a3a3a" stroke-width="0.14">36</text>
<text transform="translate(531.80,488.79) scale(0.804,1)" text-anchor="end" font-size="6.6" fill="#3a3a3a" stroke="#3a3a3a" stroke-width="0.14">BLU</text>
<text transform="translate(558.80,491.41) scale(0.856,1)" text-anchor="start" font-size="6.2" fill="#3a3a3a" stroke="#3a3a3a" stroke-width="0.14">TERM 15</text>
<line x1="555.30" y1="500.63" x2="555.30" y2="504.23" stroke="#6f6f6f" stroke-width="1.1" />
<path d="M553.30,497.73 Q551.00,500.43 553.30,503.13" stroke="#4a4a4a" stroke-width="0.85" fill="none" />
<text transform="translate(549.30,497.58) scale(0.856,1)" text-anchor="end" font-size="6.2" fill="#3a3a3a" stroke="#3a3a3a" stroke-width="0.14">37</text>
<text transform="translate(531.80,497.68) scale(0.804,1)" text-anchor="end" font-size="6.6" fill="#3a3a3a" stroke="#3a3a3a" stroke-width="0.14">BLU</text>
<text transform="translate(558.80,500.29) scale(0.856,1)" text-anchor="start" font-size="6.2" fill="#3a3a3a" stroke="#3a3a3a" stroke-width="0.14">TERM 15</text>
<line x1="555.30" y1="509.52" x2="555.30" y2="513.12" stroke="#6f6f6f" stroke-width="1.1" />
<path d="M553.30,506.62 Q551.00,509.32 553.30,512.02" stroke="#4a4a4a" stroke-width="0.85" fill="none" />
<text transform="translate(549.30,506.47) scale(0.856,1)" text-anchor="end" font-size="6.2" fill="#3a3a3a" stroke="#3a3a3a" stroke-width="0.14">38</text>
<text transform="translate(531.80,506.57) scale(0.804,1)" text-anchor="end" font-size="6.6" fill="#3a3a3a" stroke="#3a3a3a" stroke-width="0.14">BLU</text>
<text transform="translate(558.80,509.16) scale(0.856,1)" text-anchor="start" font-size="6.2" fill="#3a3a3a" stroke="#3a3a3a" stroke-width="0.14">CRNKSHAFT SENS</text>
<line x1="555.30" y1="518.41" x2="555.30" y2="522.01" stroke="#6f6f6f" stroke-width="1.1" />
<path d="M553.30,515.51 Q551.00,518.21 553.30,520.91" stroke="#4a4a4a" stroke-width="0.85" fill="none" />
<text transform="translate(549.30,515.36) scale(0.856,1)" text-anchor="end" font-size="6.2" fill="#3a3a3a" stroke="#3a3a3a" stroke-width="0.14">39</text>
<text transform="translate(531.80,515.46) scale(0.804,1)" text-anchor="end" font-size="6.6" fill="#3a3a3a" stroke="#3a3a3a" stroke-width="0.14">YEL</text>
<text transform="translate(558.80,518.04) scale(0.856,1)" text-anchor="start" font-size="6.2" fill="#3a3a3a" stroke="#3a3a3a" stroke-width="0.14">SPLY</text>
<line x1="555.30" y1="527.30" x2="555.30" y2="530.90" stroke="#6f6f6f" stroke-width="1.1" />
<path d="M553.30,524.40 Q551.00,527.10 553.30,529.80" stroke="#4a4a4a" stroke-width="0.85" fill="none" />
<text transform="translate(549.30,524.25) scale(0.856,1)" text-anchor="end" font-size="6.2" fill="#3a3a3a" stroke="#3a3a3a" stroke-width="0.14">40</text>
<text transform="translate(531.80,524.35) scale(0.804,1)" text-anchor="end" font-size="6.6" fill="#3a3a3a" stroke="#3a3a3a" stroke-width="0.14">BLU</text>
<text transform="translate(558.80,526.92) scale(0.856,1)" text-anchor="start" font-size="6.2" fill="#3a3a3a" stroke="#3a3a3a" stroke-width="0.14">TERM 15</text>
<line x1="555.30" y1="536.19" x2="555.30" y2="539.79" stroke="#6f6f6f" stroke-width="1.1" />
<path d="M553.30,533.29 Q551.00,535.99 553.30,538.69" stroke="#4a4a4a" stroke-width="0.85" fill="none" />
<text transform="translate(549.30,533.14) scale(0.856,1)" text-anchor="end" font-size="6.2" fill="#3a3a3a" stroke="#3a3a3a" stroke-width="0.14">41</text>
<text transform="translate(531.80,533.24) scale(0.804,1)" text-anchor="end" font-size="6.6" fill="#3a3a3a" stroke="#3a3a3a" stroke-width="0.14">ORG</text>
<text transform="translate(558.80,535.80) scale(0.856,1)" text-anchor="start" font-size="6.2" fill="#3a3a3a" stroke="#3a3a3a" stroke-width="0.14">TERM 87</text>
<line x1="555.30" y1="545.08" x2="555.30" y2="548.68" stroke="#6f6f6f" stroke-width="1.1" />
<path d="M553.30,542.18 Q551.00,544.88 553.30,547.58" stroke="#4a4a4a" stroke-width="0.85" fill="none" />
<text transform="translate(549.30,542.03) scale(0.856,1)" text-anchor="end" font-size="6.2" fill="#3a3a3a" stroke="#3a3a3a" stroke-width="0.14">42</text>
<line x1="555.30" y1="553.97" x2="555.30" y2="557.57" stroke="#6f6f6f" stroke-width="1.1" />
<path d="M553.30,551.07 Q551.00,553.77 553.30,556.47" stroke="#4a4a4a" stroke-width="0.85" fill="none" />
<text transform="translate(549.30,550.92) scale(0.856,1)" text-anchor="end" font-size="6.2" fill="#3a3a3a" stroke="#3a3a3a" stroke-width="0.14">43</text>
<text transform="translate(531.80,551.02) scale(0.804,1)" text-anchor="end" font-size="6.6" fill="#3a3a3a" stroke="#3a3a3a" stroke-width="0.14">WHT</text>
<text transform="translate(558.80,553.55) scale(0.856,1)" text-anchor="start" font-size="6.2" fill="#3a3a3a" stroke="#3a3a3a" stroke-width="0.14">PR SENS</text>
<line x1="555.30" y1="562.86" x2="555.30" y2="566.46" stroke="#6f6f6f" stroke-width="1.1" />
<path d="M553.30,559.96 Q551.00,562.66 553.30,565.36" stroke="#4a4a4a" stroke-width="0.85" fill="none" />
<text transform="translate(549.30,559.81) scale(0.856,1)" text-anchor="end" font-size="6.2" fill="#3a3a3a" stroke="#3a3a3a" stroke-width="0.14">44</text>
<text transform="translate(531.80,559.91) scale(0.804,1)" text-anchor="end" font-size="6.6" fill="#3a3a3a" stroke="#3a3a3a" stroke-width="0.14">WHT</text>
<text transform="translate(558.80,562.43) scale(0.856,1)" text-anchor="start" font-size="6.2" fill="#3a3a3a" stroke="#3a3a3a" stroke-width="0.14">WHEEL DRIVE</text>
</g>
<g id="comps">
<rect x="41.90" y="49.30" width="28.00" height="21.10" fill="#e0ebf8" stroke="#7d7d7d" stroke-width="1"/>
<line x1="48.50" y1="55.30" x2="63.30" y2="55.30" stroke="#777" stroke-width="0.7" />
<line x1="48.50" y1="57.10" x2="63.30" y2="57.10" stroke="#777" stroke-width="0.7" />
<path d="M46.40,69.8 V62.6 Q46.60,60.6 48.70,60.4 a1.80,2.0 0 0 1 3.60,0 a1.80,2.0 0 0 1 3.60,0 a1.80,2.0 0 0 1 3.60,0 a1.80,2.0 0 0 1 3.60,0 Q64.00,60.6 64.20,62.6 V69.8" stroke="#444" stroke-width="0.8" fill="none" />
<path d="M44.50,67.60 L46.40,68.90 L48.30,67.60 L46.40,70.40 Z" fill="#444" stroke="#444" stroke-width="0.25"/>
<path d="M62.30,67.60 L64.20,68.90 L66.10,67.60 L64.20,70.40 Z" fill="#444" stroke="#444" stroke-width="0.25"/>
<path d="M43.50,72.10 C44.95,74.70 47.85,74.70 49.30,72.10" stroke="#5a5a5a" stroke-width="0.95" fill="none" />
<path d="M61.30,72.10 C62.75,74.70 65.65,74.70 67.10,72.10" stroke="#5a5a5a" stroke-width="0.95" fill="none" />
<text transform="translate(55.90,40.00) scale(0.856,1)" text-anchor="middle" font-size="6.2" fill="#3a3a3a" stroke="#3a3a3a" stroke-width="0.14">FUEL</text>
<text transform="translate(55.90,46.40) scale(0.856,1)" text-anchor="middle" font-size="6.2" fill="#3a3a3a" stroke="#3a3a3a" stroke-width="0.14">INJECTION 4</text>
<text transform="translate(43.70,77.60) rotate(-90) scale(0.856,1)" text-anchor="middle" font-size="5.8" fill="#3a3a3a" stroke="#3a3a3a" stroke-width="0.14">2</text>
<text transform="translate(43.80,96.60) rotate(-90) scale(0.856,1)" text-anchor="middle" font-size="6.2" fill="#3a3a3a" stroke="#3a3a3a" stroke-width="0.14">WHT</text>
<text transform="translate(61.50,77.60) rotate(-90) scale(0.856,1)" text-anchor="middle" font-size="5.8" fill="#3a3a3a" stroke="#3a3a3a" stroke-width="0.14">1</text>
<text transform="translate(61.60,96.60) rotate(-90) scale(0.856,1)" text-anchor="middle" font-size="6.2" fill="#3a3a3a" stroke="#3a3a3a" stroke-width="0.14">ORG</text>
<rect x="86.20" y="49.30" width="28.00" height="21.10" fill="#e0ebf8" stroke="#7d7d7d" stroke-width="1"/>
<line x1="92.80" y1="55.30" x2="107.60" y2="55.30" stroke="#777" stroke-width="0.7" />
<line x1="92.80" y1="57.10" x2="107.60" y2="57.10" stroke="#777" stroke-width="0.7" />
<path d="M91.00,69.8 V62.6 Q91.20,60.6 93.00,60.4 a1.80,2.0 0 0 1 3.60,0 a1.80,2.0 0 0 1 3.60,0 a1.80,2.0 0 0 1 3.60,0 a1.80,2.0 0 0 1 3.60,0 Q108.40,60.6 108.60,62.6 V69.8" stroke="#444" stroke-width="0.8" fill="none" />
<path d="M89.10,67.60 L91.00,68.90 L92.90,67.60 L91.00,70.40 Z" fill="#444" stroke="#444" stroke-width="0.25"/>
<path d="M106.70,67.60 L108.60,68.90 L110.50,67.60 L108.60,70.40 Z" fill="#444" stroke="#444" stroke-width="0.25"/>
<path d="M88.10,72.10 C89.55,74.70 92.45,74.70 93.90,72.10" stroke="#5a5a5a" stroke-width="0.95" fill="none" />
<path d="M105.70,72.10 C107.15,74.70 110.05,74.70 111.50,72.10" stroke="#5a5a5a" stroke-width="0.95" fill="none" />
<text transform="translate(100.20,40.00) scale(0.856,1)" text-anchor="middle" font-size="6.2" fill="#3a3a3a" stroke="#3a3a3a" stroke-width="0.14">FUEL</text>
<text transform="translate(100.20,46.40) scale(0.856,1)" text-anchor="middle" font-size="6.2" fill="#3a3a3a" stroke="#3a3a3a" stroke-width="0.14">INJECTION 3</text>
<text transform="translate(88.30,77.60) rotate(-90) scale(0.856,1)" text-anchor="middle" font-size="5.8" fill="#3a3a3a" stroke="#3a3a3a" stroke-width="0.14">1</text>
<text transform="translate(88.40,96.60) rotate(-90) scale(0.856,1)" text-anchor="middle" font-size="6.2" fill="#3a3a3a" stroke="#3a3a3a" stroke-width="0.14">ORG</text>
<text transform="translate(105.90,77.60) rotate(-90) scale(0.856,1)" text-anchor="middle" font-size="5.8" fill="#3a3a3a" stroke="#3a3a3a" stroke-width="0.14">2</text>
<text transform="translate(106.00,96.60) rotate(-90) scale(0.856,1)" text-anchor="middle" font-size="6.2" fill="#3a3a3a" stroke="#3a3a3a" stroke-width="0.14">WHT</text>
<rect x="130.30" y="49.30" width="28.00" height="21.10" fill="#e0ebf8" stroke="#7d7d7d" stroke-width="1"/>
<line x1="136.90" y1="55.30" x2="151.70" y2="55.30" stroke="#777" stroke-width="0.7" />
<line x1="136.90" y1="57.10" x2="151.70" y2="57.10" stroke="#777" stroke-width="0.7" />
<path d="M135.30,69.8 V62.6 Q135.50,60.6 137.10,60.4 a1.80,2.0 0 0 1 3.60,0 a1.80,2.0 0 0 1 3.60,0 a1.80,2.0 0 0 1 3.60,0 a1.80,2.0 0 0 1 3.60,0 Q153.20,60.6 153.40,62.6 V69.8" stroke="#444" stroke-width="0.8" fill="none" />
<path d="M133.40,67.60 L135.30,68.90 L137.20,67.60 L135.30,70.40 Z" fill="#444" stroke="#444" stroke-width="0.25"/>
<path d="M151.50,67.60 L153.40,68.90 L155.30,67.60 L153.40,70.40 Z" fill="#444" stroke="#444" stroke-width="0.25"/>
<path d="M132.40,72.10 C133.85,74.70 136.75,74.70 138.20,72.10" stroke="#5a5a5a" stroke-width="0.95" fill="none" />
<path d="M150.50,72.10 C151.95,74.70 154.85,74.70 156.30,72.10" stroke="#5a5a5a" stroke-width="0.95" fill="none" />
<text transform="translate(144.30,40.00) scale(0.856,1)" text-anchor="middle" font-size="6.2" fill="#3a3a3a" stroke="#3a3a3a" stroke-width="0.14">FUEL</text>
<text transform="translate(144.30,46.40) scale(0.856,1)" text-anchor="middle" font-size="6.2" fill="#3a3a3a" stroke="#3a3a3a" stroke-width="0.14">INJECTION 2</text>
<text transform="translate(132.60,77.60) rotate(-90) scale(0.856,1)" text-anchor="middle" font-size="5.8" fill="#3a3a3a" stroke="#3a3a3a" stroke-width="0.14">1</text>
<text transform="translate(132.70,96.60) rotate(-90) scale(0.856,1)" text-anchor="middle" font-size="6.2" fill="#3a3a3a" stroke="#3a3a3a" stroke-width="0.14">ORG</text>
<text transform="translate(150.70,77.60) rotate(-90) scale(0.856,1)" text-anchor="middle" font-size="5.8" fill="#3a3a3a" stroke="#3a3a3a" stroke-width="0.14">2</text>
<text transform="translate(150.80,96.60) rotate(-90) scale(0.856,1)" text-anchor="middle" font-size="6.2" fill="#3a3a3a" stroke="#3a3a3a" stroke-width="0.14">WHT</text>
<rect x="174.50" y="49.30" width="28.00" height="21.10" fill="#e0ebf8" stroke="#7d7d7d" stroke-width="1"/>
<line x1="181.10" y1="55.30" x2="195.90" y2="55.30" stroke="#777" stroke-width="0.7" />
<line x1="181.10" y1="57.10" x2="195.90" y2="57.10" stroke="#777" stroke-width="0.7" />
<path d="M179.60,69.8 V62.6 Q179.80,60.6 181.30,60.4 a1.80,2.0 0 0 1 3.60,0 a1.80,2.0 0 0 1 3.60,0 a1.80,2.0 0 0 1 3.60,0 a1.80,2.0 0 0 1 3.60,0 Q197.20,60.6 197.40,62.6 V69.8" stroke="#444" stroke-width="0.8" fill="none" />
<path d="M177.70,67.60 L179.60,68.90 L181.50,67.60 L179.60,70.40 Z" fill="#444" stroke="#444" stroke-width="0.25"/>
<path d="M195.50,67.60 L197.40,68.90 L199.30,67.60 L197.40,70.40 Z" fill="#444" stroke="#444" stroke-width="0.25"/>
<path d="M176.70,72.10 C178.15,74.70 181.05,74.70 182.50,72.10" stroke="#5a5a5a" stroke-width="0.95" fill="none" />
<path d="M194.50,72.10 C195.95,74.70 198.85,74.70 200.30,72.10" stroke="#5a5a5a" stroke-width="0.95" fill="none" />
<text transform="translate(188.50,40.00) scale(0.856,1)" text-anchor="middle" font-size="6.2" fill="#3a3a3a" stroke="#3a3a3a" stroke-width="0.14">FUEL</text>
<text transform="translate(188.50,46.40) scale(0.856,1)" text-anchor="middle" font-size="6.2" fill="#3a3a3a" stroke="#3a3a3a" stroke-width="0.14">INJECTION 1</text>
<text transform="translate(176.90,77.60) rotate(-90) scale(0.856,1)" text-anchor="middle" font-size="5.8" fill="#3a3a3a" stroke="#3a3a3a" stroke-width="0.14">1</text>
<text transform="translate(177.00,96.60) rotate(-90) scale(0.856,1)" text-anchor="middle" font-size="6.2" fill="#3a3a3a" stroke="#3a3a3a" stroke-width="0.14">ORG</text>
<text transform="translate(194.70,77.60) rotate(-90) scale(0.856,1)" text-anchor="middle" font-size="5.8" fill="#3a3a3a" stroke="#3a3a3a" stroke-width="0.14">2</text>
<text transform="translate(194.80,96.60) rotate(-90) scale(0.856,1)" text-anchor="middle" font-size="6.2" fill="#3a3a3a" stroke="#3a3a3a" stroke-width="0.14">WHT</text>
<path d="M38,33 L40.4,30.5 H119.3 L121.9,28 L124.5,30.5 H201.2 L203.6,33" stroke="#555" stroke-width="0.8" fill="none" />
<text transform="translate(122.50,24.90) scale(0.856,1)" text-anchor="middle" font-size="6.2" fill="#3a3a3a" stroke="#3a3a3a" stroke-width="0.14">(TOP RIGHT SIDE OF ENGINE)</text>
<rect x="236.30" y="52.20" width="46.00" height="28.10" fill="#e0ebf8" stroke="#7d7d7d" stroke-width="1"/>
<text transform="translate(258.60,29.40) scale(0.856,1)" text-anchor="middle" font-size="6.2" fill="#3a3a3a" stroke="#3a3a3a" stroke-width="0.14">(TOP RIGHT REAR</text>
<text transform="translate(259.20,35.30) scale(0.856,1)" text-anchor="middle" font-size="6.2" fill="#3a3a3a" stroke="#3a3a3a" stroke-width="0.14">SIDE OF ENGINE)</text>
<text transform="translate(258.50,43.20) scale(0.856,1)" text-anchor="middle" font-size="6.2" fill="#3a3a3a" stroke="#3a3a3a" stroke-width="0.14">EXHAUST</text>
<text transform="translate(259.40,49.40) scale(0.856,1)" text-anchor="middle" font-size="6.2" fill="#3a3a3a" stroke="#3a3a3a" stroke-width="0.14">CAMSHAFT SENSOR</text>
<line x1="242.00" y1="80.30" x2="242.00" y2="106.60" stroke="#333" stroke-width="1.3" />
<path d="M240.10,104.60 L242.00,105.90 L243.90,104.60 L242.00,107.40 Z" fill="#333" stroke="#333" stroke-width="0.25"/>
<path d="M238.50,106.50 C240.25,109.10 243.75,109.10 245.50,106.50" stroke="#555" stroke-width="0.95" fill="none" />
<text transform="translate(239.40,93.20) rotate(-90) scale(0.856,1)" text-anchor="middle" font-size="6.2" fill="#3a3a3a" stroke="#3a3a3a" stroke-width="0.14">NCA</text>
<text transform="translate(239.40,128.40) rotate(-90) scale(0.856,1)" text-anchor="start" font-size="6.2" fill="#3a3a3a" stroke="#3a3a3a" stroke-width="0.14">YEL</text>
<text transform="translate(239.40,113.20) rotate(-90) scale(0.856,1)" text-anchor="middle" font-size="6.2" fill="#3a3a3a" stroke="#3a3a3a" stroke-width="0.14">2</text>
<line x1="259.60" y1="80.30" x2="259.60" y2="106.60" stroke="#333" stroke-width="1.3" />
<path d="M257.70,104.60 L259.60,105.90 L261.50,104.60 L259.60,107.40 Z" fill="#333" stroke="#333" stroke-width="0.25"/>
<path d="M256.10,106.50 C257.85,109.10 261.35,109.10 263.10,106.50" stroke="#555" stroke-width="0.95" fill="none" />
<text transform="translate(257.00,93.20) rotate(-90) scale(0.856,1)" text-anchor="middle" font-size="6.2" fill="#3a3a3a" stroke="#3a3a3a" stroke-width="0.14">NCA</text>
<text transform="translate(257.00,128.40) rotate(-90) scale(0.856,1)" text-anchor="start" font-size="6.2" fill="#3a3a3a" stroke="#3a3a3a" stroke-width="0.14">BLU</text>
<text transform="translate(257.00,113.20) rotate(-90) scale(0.856,1)" text-anchor="middle" font-size="6.2" fill="#3a3a3a" stroke="#3a3a3a" stroke-width="0.14">1</text>
<line x1="277.60" y1="80.30" x2="277.60" y2="106.60" stroke="#333" stroke-width="1.3" />
<path d="M275.70,104.60 L277.60,105.90 L279.50,104.60 L277.60,107.40 Z" fill="#333" stroke="#333" stroke-width="0.25"/>
<path d="M274.10,106.50 C275.85,109.10 279.35,109.10 281.10,106.50" stroke="#555" stroke-width="0.95" fill="none" />
<text transform="translate(275.00,93.20) rotate(-90) scale(0.856,1)" text-anchor="middle" font-size="6.2" fill="#3a3a3a" stroke="#3a3a3a" stroke-width="0.14">NCA</text>
<text transform="translate(275.00,128.40) rotate(-90) scale(0.856,1)" text-anchor="start" font-size="6.2" fill="#3a3a3a" stroke="#3a3a3a" stroke-width="0.14">WHT</text>
<text transform="translate(275.00,113.20) rotate(-90) scale(0.856,1)" text-anchor="middle" font-size="6.2" fill="#3a3a3a" stroke="#3a3a3a" stroke-width="0.14">3</text>
<rect x="307.40" y="52.20" width="37.10" height="28.10" fill="#e0ebf8" stroke="#7d7d7d" stroke-width="1"/>
<text transform="translate(325.80,30.60) scale(0.856,1)" text-anchor="middle" font-size="6.2" fill="#3a3a3a" stroke="#3a3a3a" stroke-width="0.14">(RIGHT SIDE</text>
<text transform="translate(326.20,37.30) scale(0.856,1)" text-anchor="middle" font-size="6.2" fill="#3a3a3a" stroke="#3a3a3a" stroke-width="0.14">OF ENGINE)</text>
<text transform="translate(325.60,44.00) scale(0.856,1)" text-anchor="middle" font-size="6.2" fill="#3a3a3a" stroke="#3a3a3a" stroke-width="0.14">KNOCK</text>
<text transform="translate(326.40,50.90) scale(0.856,1)" text-anchor="middle" font-size="6.2" fill="#3a3a3a" stroke="#3a3a3a" stroke-width="0.14">SENSOR</text>
<rect x="324.1" y="60" width="4.0" height="9.6" fill="#111"/>
<line x1="321.50" y1="61.20" x2="321.50" y2="68.40" stroke="#333" stroke-width="0.9" />
<line x1="330.80" y1="61.20" x2="330.80" y2="68.40" stroke="#333" stroke-width="0.9" />
<path d="M312.8,80.3 V64.8 H321.5" stroke="#333" stroke-width="1.0" fill="none" />
<path d="M339.7,80.3 V64.8 H330.8" stroke="#333" stroke-width="1.0" fill="none" />
<line x1="312.80" y1="80.30" x2="312.80" y2="106.60" stroke="#333" stroke-width="1.3" />
<path d="M310.90,104.60 L312.80,105.90 L314.70,104.60 L312.80,107.40 Z" fill="#333" stroke="#333" stroke-width="0.25"/>
<path d="M309.30,106.50 C311.05,109.10 314.55,109.10 316.30,106.50" stroke="#555" stroke-width="0.95" fill="none" />
<text transform="translate(310.20,93.20) rotate(-90) scale(0.856,1)" text-anchor="middle" font-size="6.2" fill="#3a3a3a" stroke="#3a3a3a" stroke-width="0.14">NCA</text>
<text transform="translate(310.20,128.40) rotate(-90) scale(0.856,1)" text-anchor="start" font-size="6.2" fill="#3a3a3a" stroke="#3a3a3a" stroke-width="0.14">BLK</text>
<text transform="translate(310.20,113.20) rotate(-90) scale(0.856,1)" text-anchor="middle" font-size="6.2" fill="#3a3a3a" stroke="#3a3a3a" stroke-width="0.14">2</text>
<line x1="339.70" y1="80.30" x2="339.70" y2="106.60" stroke="#333" stroke-width="1.3" />
<path d="M337.80,104.60 L339.70,105.90 L341.60,104.60 L339.70,107.40 Z" fill="#333" stroke="#333" stroke-width="0.25"/>
<path d="M336.20,106.50 C337.95,109.10 341.45,109.10 343.20,106.50" stroke="#555" stroke-width="0.95" fill="none" />
<text transform="translate(337.10,93.20) rotate(-90) scale(0.856,1)" text-anchor="middle" font-size="6.2" fill="#3a3a3a" stroke="#3a3a3a" stroke-width="0.14">NCA</text>
<text transform="translate(337.10,128.40) rotate(-90) scale(0.856,1)" text-anchor="start" font-size="6.2" fill="#3a3a3a" stroke="#3a3a3a" stroke-width="0.14">YEL</text>
<text transform="translate(337.10,113.20) rotate(-90) scale(0.856,1)" text-anchor="middle" font-size="6.2" fill="#3a3a3a" stroke="#3a3a3a" stroke-width="0.14">1</text>
<rect x="360.50" y="43.50" width="46.20" height="27.80" fill="#e0ebf8" stroke="#7d7d7d" stroke-width="1"/>
<text transform="translate(382.90,34.40) scale(0.856,1)" text-anchor="middle" font-size="6.2" fill="#3a3a3a" stroke="#3a3a3a" stroke-width="0.14">ENGINE OIL</text>
<text transform="translate(383.30,41.40) scale(0.856,1)" text-anchor="middle" font-size="6.2" fill="#3a3a3a" stroke="#3a3a3a" stroke-width="0.14">PRESSURE SENSOR</text>
<path d="M363.20,71.6 A2.8,2.6 0 0 0 368.80,71.6" stroke="#808080" stroke-width="0.8" fill="#f6f6f6" />
<text transform="translate(363.30,77.60) rotate(-90) scale(0.856,1)" text-anchor="middle" font-size="5.8" fill="#3a3a3a" stroke="#3a3a3a" stroke-width="0.14">2</text>
<text transform="translate(363.40,96.20) rotate(-90) scale(0.856,1)" text-anchor="middle" font-size="6.2" fill="#3a3a3a" stroke="#3a3a3a" stroke-width="0.14">WHT</text>
<path d="M381.20,71.6 A2.8,2.6 0 0 0 386.80,71.6" stroke="#808080" stroke-width="0.8" fill="#f6f6f6" />
<text transform="translate(381.30,77.60) rotate(-90) scale(0.856,1)" text-anchor="middle" font-size="5.8" fill="#3a3a3a" stroke="#3a3a3a" stroke-width="0.14">1</text>
<text transform="translate(381.40,96.20) rotate(-90) scale(0.856,1)" text-anchor="middle" font-size="6.2" fill="#3a3a3a" stroke="#3a3a3a" stroke-width="0.14">BLU</text>
<path d="M398.70,71.6 A2.8,2.6 0 0 0 404.30,71.6" stroke="#808080" stroke-width="0.8" fill="#f6f6f6" />
<text transform="translate(398.80,77.60) rotate(-90) scale(0.856,1)" text-anchor="middle" font-size="5.8" fill="#3a3a3a" stroke="#3a3a3a" stroke-width="0.14">3</text>
<text transform="translate(398.90,96.20) rotate(-90) scale(0.856,1)" text-anchor="middle" font-size="6.2" fill="#3a3a3a" stroke="#3a3a3a" stroke-width="0.14">BLK</text>
<rect x="413.60" y="43.40" width="37.20" height="27.80" fill="#e0ebf8" stroke="#7d7d7d" stroke-width="1"/>
<text transform="translate(432.20,28.40) scale(0.856,1)" text-anchor="middle" font-size="6.2" fill="#3a3a3a" stroke="#3a3a3a" stroke-width="0.14">FRACTION</text>
<text transform="translate(432.30,35.00) scale(0.856,1)" text-anchor="middle" font-size="6.2" fill="#3a3a3a" stroke="#3a3a3a" stroke-width="0.14">WHEEL</text>
<text transform="translate(432.60,41.90) scale(0.856,1)" text-anchor="middle" font-size="6.2" fill="#3a3a3a" stroke="#3a3a3a" stroke-width="0.14">DRIVE</text>
<rect x="424.40" y="53.00" width="3.4" height="6.0" fill="#f4f8fc" stroke="#666" stroke-width="0.7"/>
<rect x="436.20" y="53.00" width="3.4" height="6.0" fill="#f4f8fc" stroke="#666" stroke-width="0.7"/>
<circle cx="432.00" cy="56.00" r="4.3" fill="#fbfdff" stroke="#888" stroke-width="0.7"/>
<text transform="translate(432.00,58.20) scale(0.82,1)" text-anchor="middle" font-size="6.2" fill="#333" stroke="#333" stroke-width="0.14">M</text>
<path d="M424.40,56.30 H419.30 V70.60" stroke="#666" stroke-width="0.8" fill="none" />
<path d="M439.60,56.30 H446.00 V70.60" stroke="#666" stroke-width="0.8" fill="none" />
<path d="M417.40,68.40 L419.30,69.70 L421.20,68.40 L419.30,71.20 Z" fill="#444" stroke="#444" stroke-width="0.25"/>
<path d="M444.10,68.40 L446.00,69.70 L447.90,68.40 L446.00,71.20 Z" fill="#444" stroke="#444" stroke-width="0.25"/>
<path d="M416.70,72.41 C418.10,74.75 420.90,74.75 422.30,72.41" stroke="#5a5a5a" stroke-width="0.95" fill="none" />
<text transform="translate(415.90,77.60) rotate(-90) scale(0.856,1)" text-anchor="middle" font-size="5.8" fill="#3a3a3a" stroke="#3a3a3a" stroke-width="0.14">1</text>
<text transform="translate(416.00,105.40) rotate(-90) scale(0.856,1)" text-anchor="middle" font-size="6.2" fill="#3a3a3a" stroke="#3a3a3a" stroke-width="0.14">ORG</text>
<path d="M443.20,72.41 C444.60,74.75 447.40,74.75 448.80,72.41" stroke="#5a5a5a" stroke-width="0.95" fill="none" />
<text transform="translate(442.40,77.60) rotate(-90) scale(0.856,1)" text-anchor="middle" font-size="5.8" fill="#3a3a3a" stroke="#3a3a3a" stroke-width="0.14">2</text>
<text transform="translate(442.50,105.40) rotate(-90) scale(0.856,1)" text-anchor="middle" font-size="6.2" fill="#3a3a3a" stroke="#3a3a3a" stroke-width="0.14">WHT</text>
<rect x="475.80" y="52.40" width="37.20" height="27.90" fill="#e0ebf8" stroke="#7d7d7d" stroke-width="1"/>
<text transform="translate(494.30,30.10) scale(0.856,1)" text-anchor="middle" font-size="6.2" fill="#3a3a3a" stroke="#3a3a3a" stroke-width="0.14">(RIGHT REAR</text>
<text transform="translate(495.00,37.10) scale(0.856,1)" text-anchor="middle" font-size="6.2" fill="#3a3a3a" stroke="#3a3a3a" stroke-width="0.14">OF ENGINE)</text>
<text transform="translate(494.30,43.10) scale(0.856,1)" text-anchor="middle" font-size="6.2" fill="#3a3a3a" stroke="#3a3a3a" stroke-width="0.14">VALVETRONIC</text>
<text transform="translate(495.00,50.00) scale(0.856,1)" text-anchor="middle" font-size="6.2" fill="#3a3a3a" stroke="#3a3a3a" stroke-width="0.14">SERVOMOTOR</text>
<rect x="486.70" y="62.00" width="3.4" height="6.0" fill="#f4f8fc" stroke="#666" stroke-width="0.7"/>
<rect x="498.50" y="62.00" width="3.4" height="6.0" fill="#f4f8fc" stroke="#666" stroke-width="0.7"/>
<circle cx="494.30" cy="65.00" r="4.3" fill="#fbfdff" stroke="#888" stroke-width="0.7"/>
<text transform="translate(494.30,67.20) scale(0.82,1)" text-anchor="middle" font-size="6.2" fill="#333" stroke="#333" stroke-width="0.14">M</text>
<path d="M486.70,65.30 H481.20 V79.70" stroke="#666" stroke-width="0.8" fill="none" />
<path d="M501.90,65.30 H508.00 V79.70" stroke="#666" stroke-width="0.8" fill="none" />
<path d="M479.30,77.50 L481.20,78.80 L483.10,77.50 L481.20,80.30 Z" fill="#444" stroke="#444" stroke-width="0.25"/>
<path d="M506.10,77.50 L508.00,78.80 L509.90,77.50 L508.00,80.30 Z" fill="#444" stroke="#444" stroke-width="0.25"/>
<path d="M478.60,81.61 C480.00,83.95 482.80,83.95 484.20,81.61" stroke="#5a5a5a" stroke-width="0.95" fill="none" />
<text transform="translate(478.70,87.20) rotate(-90) scale(0.856,1)" text-anchor="middle" font-size="5.8" fill="#3a3a3a" stroke="#3a3a3a" stroke-width="0.14">1</text>
<text transform="translate(478.80,105.00) rotate(-90) scale(0.856,1)" text-anchor="middle" font-size="6.2" fill="#3a3a3a" stroke="#3a3a3a" stroke-width="0.14">GRY</text>
<path d="M505.20,81.61 C506.60,83.95 509.40,83.95 510.80,81.61" stroke="#5a5a5a" stroke-width="0.95" fill="none" />
<text transform="translate(505.30,87.20) rotate(-90) scale(0.856,1)" text-anchor="middle" font-size="5.8" fill="#3a3a3a" stroke="#3a3a3a" stroke-width="0.14">2</text>
<text transform="translate(505.40,105.00) rotate(-90) scale(0.856,1)" text-anchor="middle" font-size="6.2" fill="#3a3a3a" stroke="#3a3a3a" stroke-width="0.14">WHT</text>
</g>
<g id="frame">
<line x1="2.40" y1="3.40" x2="2.40" y2="561.00" stroke="#2a2a2a" stroke-width="1.2" />
<line x1="1.80" y1="3.40" x2="646.00" y2="3.40" stroke="#555" stroke-width="1.0" />
<line x1="645.60" y1="3.40" x2="645.60" y2="561.00" stroke="#2a2a2a" stroke-width="1.0" />
<line x1="12.00" y1="560.40" x2="650.00" y2="560.40" stroke="#333" stroke-width="1.3" />
<line x1="0.00" y1="560.40" x2="12.00" y2="560.40" stroke="#bbb" stroke-width="1.3" />
</g>
</svg>
</body></html>
